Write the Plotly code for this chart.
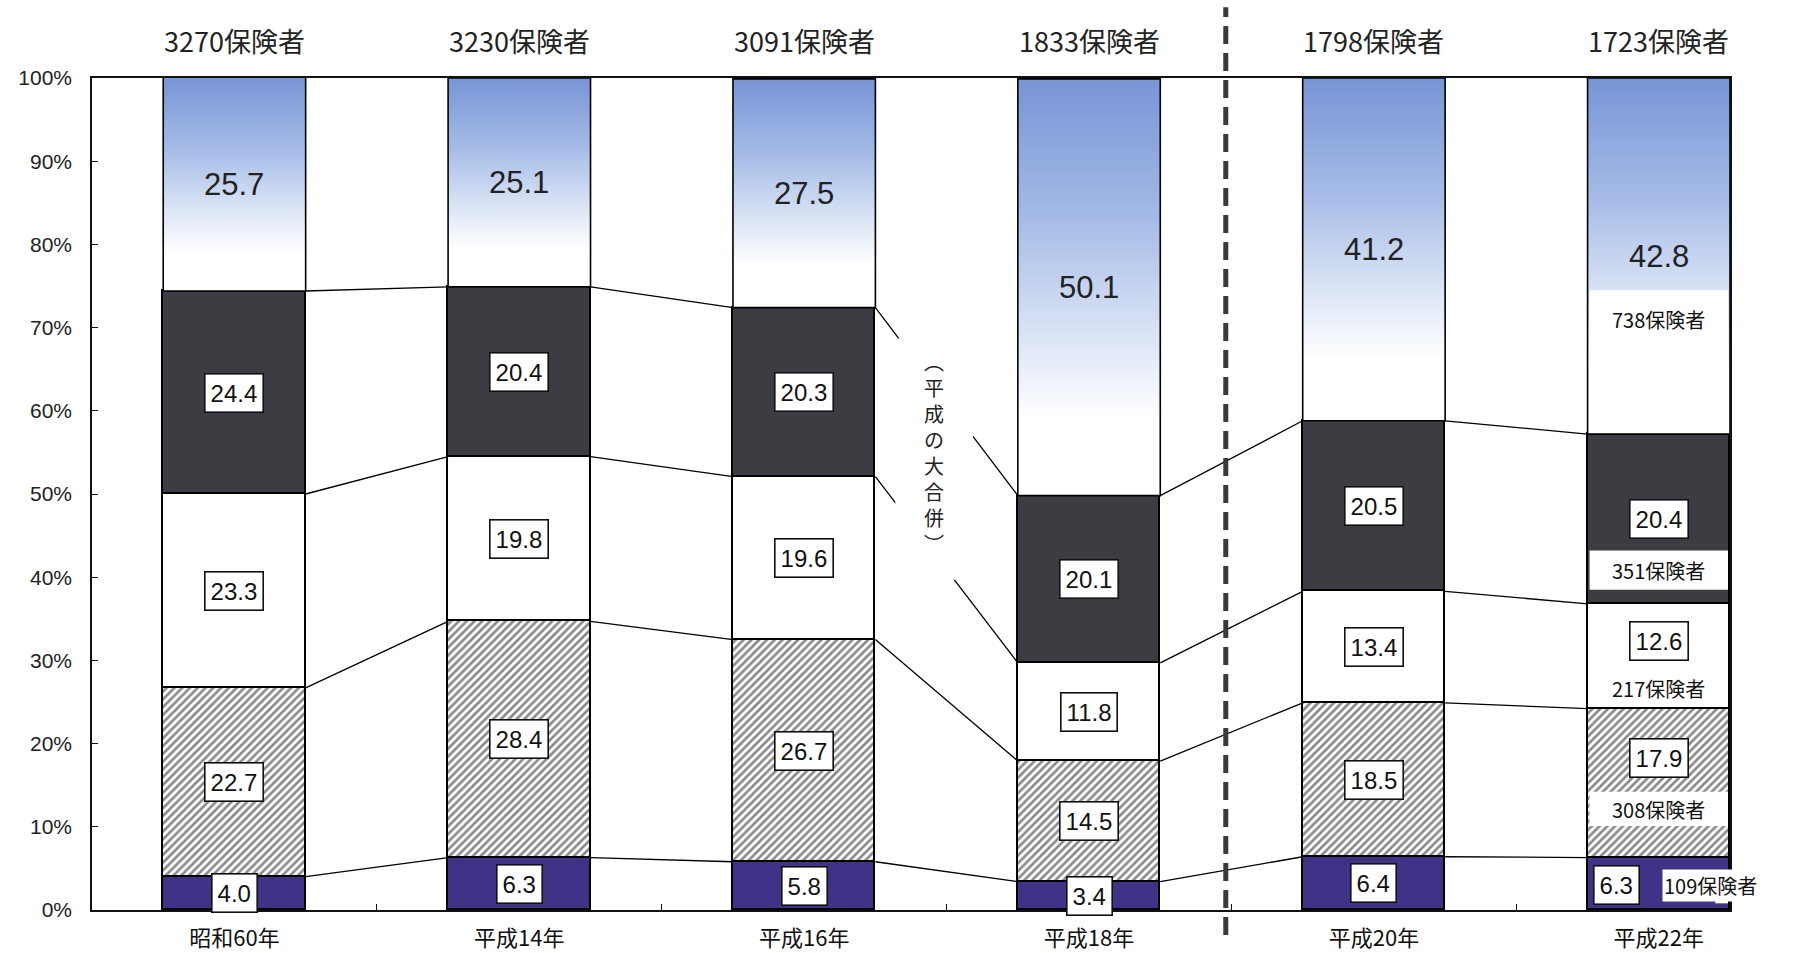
import numpy as np
import plotly.graph_objects as go

# ---------------- data ----------------
categories = ["昭和60年", "平成14年", "平成16年", "平成18年", "平成20年", "平成22年"]
insurers = [3270, 3230, 3091, 1833, 1798, 1723]

s_purple = [4.0, 6.3, 5.8, 3.4, 6.4, 6.3]
s_hatch = [22.7, 28.4, 26.7, 14.5, 18.5, 17.9]
s_white = [23.3, 19.8, 19.6, 11.8, 13.4, 12.6]
s_dark = [24.4, 20.4, 20.3, 20.1, 20.5, 20.4]
s_top = [25.7, 25.1, 27.5, 50.1, 41.2, 42.8]

# sub-counts shown inside the 平成22年 bar (bottom segment -> top segment)
h22_sub = [109, 308, 217, 351, 738]

y_ticks = list(range(0, 101, 10))
note_text = "︵平成の大合併︶"

# ---------------- styling ----------------
PURPLE = "#3e3386"
DARK = "#3c3c43"
GRAD = [[0.0, "#ffffff"], [0.18, "#ffffff"], [0.4, "#d8e2f4"],
        [0.66, "#a6bce7"], [1.0, "#7794d5"]]
NUM_FONT = "Liberation Sans, Arial, sans-serif"
JP_FONT = "Noto Sans CJK JP, sans-serif"
W = 0.5

x = np.arange(len(categories))
segments = np.array([s_purple, s_hatch, s_white, s_dark, s_top])
cum = np.cumsum(segments, axis=0)
base = cum - segments

fig = go.Figure()

bar_styles = [
    dict(color=PURPLE),
    dict(color="white", pattern=dict(shape="/", fgcolor="#111", bgcolor="white",
                                     size=5.5, solidity=0.47)),
    dict(color="white"),
    dict(color=DARK),
]
for k in range(4):
    fig.add_bar(x=x, y=segments[k], width=W,
                marker=dict(**bar_styles[k], line=dict(color="black", width=1.6)),
                hoverinfo="skip", showlegend=False)

# top (gradient) segments
for i in range(len(categories)):
    b, t = base[4][i], cum[4][i]
    fig.add_scatter(x=[i - W / 2, i + W / 2, i + W / 2, i - W / 2, i - W / 2],
                    y=[b, b, t, t, b], mode="lines", fill="toself",
                    fillgradient=dict(type="vertical", colorscale=GRAD),
                    line=dict(color="black", width=1.6),
                    hoverinfo="skip", showlegend=False)

# connector lines between bars
cx, cy = [], []
for k in range(4):
    for i in range(len(categories) - 1):
        cx += [i + W / 2, i + 1 - W / 2, None]
        cy += [cum[k][i], cum[k][i + 1], None]
fig.add_scatter(x=cx, y=cy, mode="lines", line=dict(color="black", width=1.3),
                hoverinfo="skip", showlegend=False)

shapes = []
annotations = []

# white boxes inside the 平成22年 bar
last = len(categories) - 1
inset = 0.007
box_spans = [  # (x0 offset, x1 offset, y0, y1)
    (0.198, W / 2 - inset, 0.8, 4.6),
    (-W / 2 + inset, W / 2 - inset, 10.1, 14.2),
    (-W / 2 + inset, W / 2 - inset, 38.5, 43.2),
    (-W / 2 + inset, W / 2 - inset, base[4][last] + 0.15, 74.5),
]
for x0, x1, y0, y1 in box_spans:
    shapes.append(dict(type="rect", xref="x", yref="y", x0=last + x0, x1=last + x1,
                       y0=y0, y1=y1, fillcolor="white", line=dict(width=0),
                       layer="above"))

# white box behind the vertical note
shapes.append(dict(type="rect", xref="x", yref="y", x0=2.32, x1=2.593, y0=39.7, y1=68.7,
                   fillcolor="white", line=dict(width=0), layer="above"))

# dashed divider
shapes.append(dict(type="line", xref="x", yref="paper", x0=3.48, x1=3.48, y0=-0.03,
                   y1=1.085, line=dict(color="#3a3a3a", width=5, dash="18px,9px"),
                   layer="above"))

# value labels
label_y_override = {(1, last): 18.3, (2, last): 32.3, (0, last): 3.0}
label_x_override = {(0, last): last - 0.15}
for k in range(5):
    for i in range(len(categories)):
        val = segments[k][i]
        ypos = label_y_override.get((k, i), base[k][i] + val / 2)
        xpos = label_x_override.get((k, i), i)
        if k < 4:
            annotations.append(dict(x=xpos, y=ypos, xref="x", yref="y",
                                    text=f"{val:.1f}", showarrow=False,
                                    font=dict(family=NUM_FONT, size=24, color="#111"),
                                    bgcolor="white", bordercolor="#111", borderwidth=1.6,
                                    borderpad=5))
        else:
            annotations.append(dict(x=xpos, y=ypos, xref="x", yref="y",
                                    text=f"{val:.1f}", showarrow=False,
                                    font=dict(family=NUM_FONT, size=31, color="#222")))

# sub-count notes in the 平成22年 bar
note_pos = [(last + 0.18, 2.9), (last, 12.1), (last, 26.6), (last, 40.8), (last, 71.0)]
for j, (n, (nx, ny)) in enumerate(zip(h22_sub, note_pos)):
    annotations.append(dict(x=nx, y=ny, xref="x", yref="y", text=f"{n}保険者",
                            showarrow=False, bgcolor="white" if j == 0 else None,
                            borderpad=1,
                            font=dict(family=JP_FONT, size=20, color="#111")))

# insurer counts above bars
for i, n in enumerate(insurers):
    annotations.append(dict(x=i, y=1.045, xref="x", yref="paper", yanchor="middle",
                            text=f"{n}保険者", showarrow=False,
                            font=dict(family=JP_FONT, size=27, color="#222")))

# vertical note
annotations.append(dict(x=2.456, y=55.0, xref="x", yref="y",
                        text="<br>".join(list(note_text)), showarrow=False,
                        font=dict(family=JP_FONT, size=20, color="#222")))

fig.update_layout(
    width=1799, height=953,
    barmode="stack", bargap=0,
    plot_bgcolor="white", paper_bgcolor="white",
    margin=dict(l=92, r=69, t=78, b=43),
    showlegend=False,
    shapes=shapes, annotations=annotations,
    xaxis=dict(range=[-0.5, 5.25], tickvals=list(x), ticktext=categories,
               ticks="", showline=True, linecolor="#111", linewidth=1.6, mirror=True,
               showgrid=False, zeroline=False, automargin=False,
               tickfont=dict(family=JP_FONT, size=22, color="#111"),
               ticklabelstandoff=8,
               minor=dict(tickvals=[0.5, 1.5, 2.5, 3.5, 4.5], ticks="inside",
                          ticklen=6, tickcolor="#111", showgrid=False)),
    yaxis=dict(range=[0, 100], tickvals=y_ticks, ticktext=[f"{v}%" for v in y_ticks],
               ticks="inside", ticklen=6, tickcolor="#111",
               showline=True, linecolor="#111", linewidth=1.6, mirror=True,
               showgrid=False, zeroline=False, automargin=False,
               tickfont=dict(family=NUM_FONT, size=21, color="#222"),
               ticklabelstandoff=14),
)

fig.write_html("out.html", config={"displayModeBar": False},
               post_script="document.body.style.margin='0px';document.body.style.overflow='hidden';")
